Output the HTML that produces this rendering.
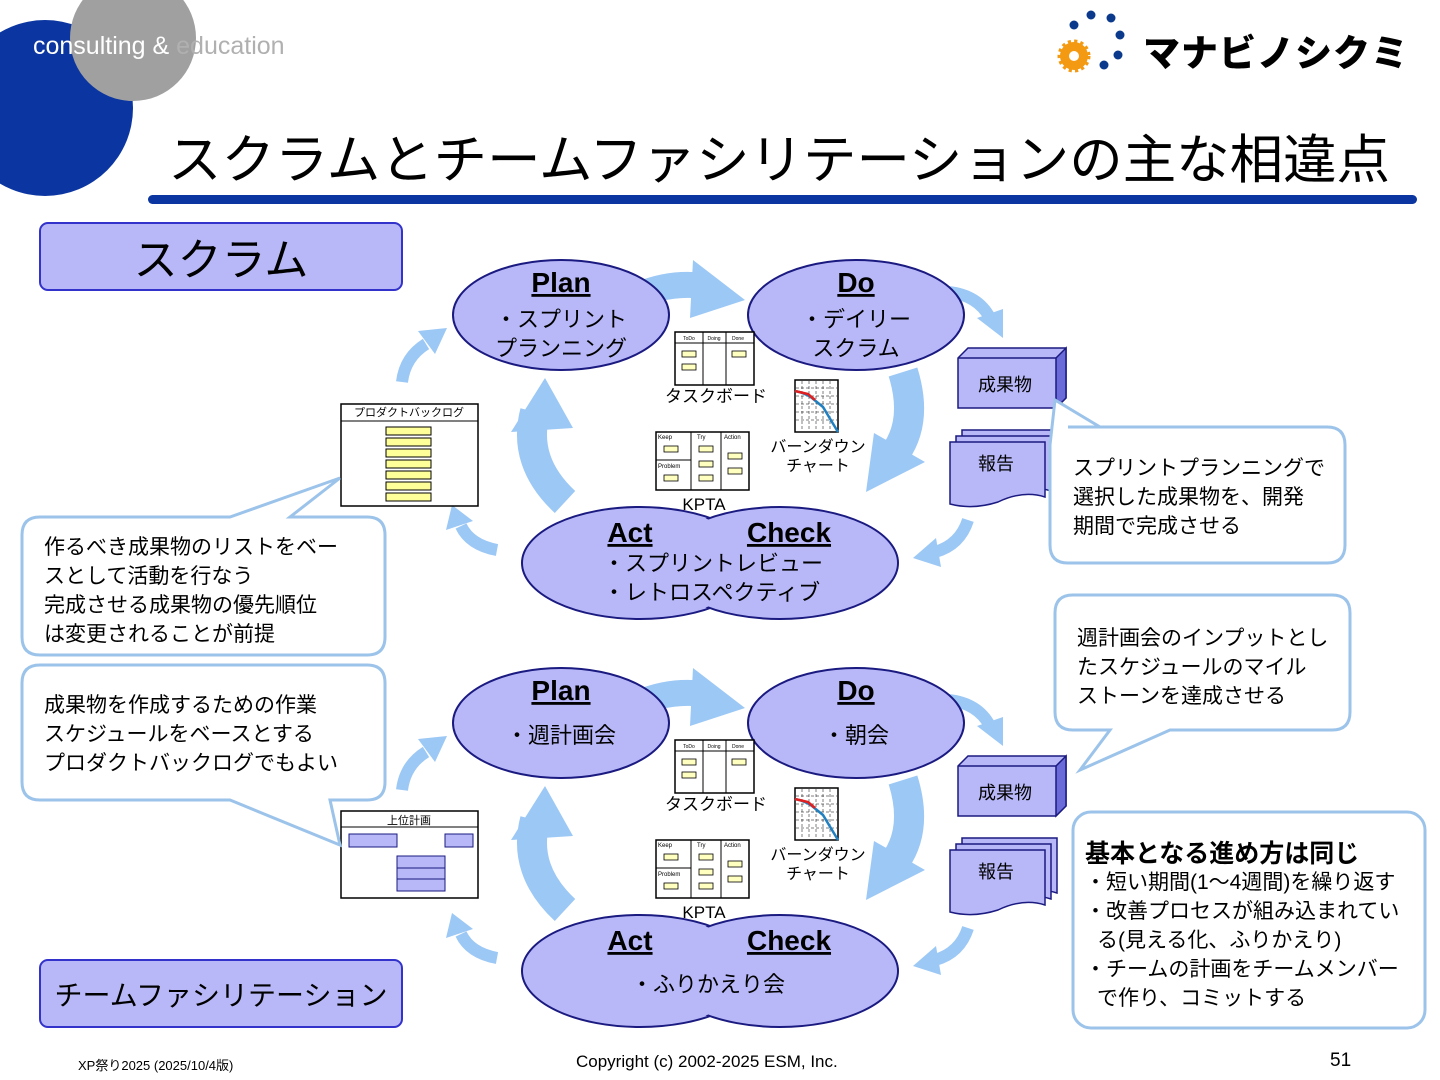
<!DOCTYPE html>
<html><head><meta charset="utf-8"><style>
html,body{margin:0;padding:0;background:#fff;width:1440px;height:1080px;overflow:hidden}
svg{display:block}
text{font-family:"Liberation Sans","Noto Sans CJK JP",sans-serif;fill:#000}
.b{font-weight:bold}
</style></head><body>
<svg width="1440" height="1080" viewBox="0 0 1440 1080" xmlns="http://www.w3.org/2000/svg">
<defs>
<g id="cycle">
  <path d="M620,305 Q660,280 705,286" stroke="#9cc8f5" stroke-width="26" fill="none"/>
  <polygon points="693,260 745,300 690,318" fill="#9cc8f5"/>
  <path d="M903,372 Q918,420 896,452" stroke="#9cc8f5" stroke-width="30" fill="none"/>
  <polygon points="874,433 925,462 866,492" fill="#9cc8f5"/>
  <path d="M565,502 Q522,462 535,412" stroke="#9cc8f5" stroke-width="30" fill="none"/>
  <polygon points="511,432 545,378 573,428" fill="#9cc8f5"/>
  <path d="M402,382 Q405,357 426,344" stroke="#9cc8f5" stroke-width="12" fill="none"/>
  <polygon points="418,331 447,328 435,354" fill="#9cc8f5"/>
  <path d="M497,550 Q470,545 461,526" stroke="#9cc8f5" stroke-width="12" fill="none"/>
  <polygon points="446,530 452,505 473,521" fill="#9cc8f5"/>
  <path d="M948,292 Q978,295 990,318" stroke="#9cc8f5" stroke-width="12" fill="none"/>
  <polygon points="977,318 1003,338 1003,309" fill="#9cc8f5"/>
  <path d="M968,520 Q960,545 935,552" stroke="#9cc8f5" stroke-width="12" fill="none"/>
  <polygon points="936,538 913,558 941,567" fill="#9cc8f5"/>
  <ellipse cx="561" cy="315" rx="108" ry="55" fill="#b8b8f8" stroke="#1a1a80" stroke-width="2"/>
  <ellipse cx="856" cy="315" rx="108" ry="55" fill="#b8b8f8" stroke="#1a1a80" stroke-width="2"/>
  <ellipse cx="640" cy="563" rx="118" ry="56" fill="#b8b8f8" stroke="#1a1a80" stroke-width="2"/>
  <ellipse cx="780" cy="563" rx="118" ry="56" fill="#b8b8f8" stroke="#1a1a80" stroke-width="2"/>
  <ellipse cx="640" cy="563" rx="116" ry="54" fill="#b8b8f8"/>
  <text x="561" y="292" font-size="28" class="b" text-anchor="middle" text-decoration="underline">Plan</text>
  <text x="856" y="292" font-size="28" class="b" text-anchor="middle" text-decoration="underline">Do</text>
  <text x="630" y="542" font-size="28" class="b" text-anchor="middle" text-decoration="underline">Act</text>
  <text x="789" y="542" font-size="28" class="b" text-anchor="middle" text-decoration="underline">Check</text>
  <rect x="675" y="332" width="79" height="53" fill="#fff" stroke="#000" stroke-width="1.5"/>
  <line x1="675" y1="343" x2="754" y2="343" stroke="#000"/>
  <line x1="703" y1="332" x2="703" y2="385" stroke="#000"/>
  <line x1="726" y1="332" x2="726" y2="385" stroke="#000"/>
  <text x="689" y="340" font-size="5" text-anchor="middle">ToDo</text>
  <text x="714" y="340" font-size="5" text-anchor="middle">Doing</text>
  <text x="738" y="340" font-size="5" text-anchor="middle">Done</text>
  <rect x="682" y="351" width="14" height="6" fill="#ffffc0" stroke="#000" stroke-width=".8"/>
  <rect x="682" y="364" width="14" height="6" fill="#ffffc0" stroke="#000" stroke-width=".8"/>
  <rect x="732" y="351" width="14" height="6" fill="#ffffc0" stroke="#000" stroke-width=".8"/>
  <text x="716" y="402" font-size="17" text-anchor="middle">タスクボード</text>
  <rect x="656" y="432" width="93" height="58" fill="#fff" stroke="#000" stroke-width="1.5"/>
  <line x1="691" y1="432" x2="691" y2="490" stroke="#000"/>
  <line x1="721" y1="432" x2="721" y2="490" stroke="#000"/>
  <line x1="656" y1="460" x2="691" y2="460" stroke="#000"/>
  <text x="658" y="439" font-size="6">Keep</text>
  <text x="697" y="439" font-size="6">Try</text>
  <text x="724" y="439" font-size="6">Action</text>
  <text x="658" y="468" font-size="6">Problem</text>
  <rect x="664" y="446" width="14" height="6" fill="#ffffc0" stroke="#000" stroke-width=".8"/>
  <rect x="664" y="475" width="14" height="6" fill="#ffffc0" stroke="#000" stroke-width=".8"/>
  <rect x="699" y="446" width="14" height="6" fill="#ffffc0" stroke="#000" stroke-width=".8"/>
  <rect x="699" y="461" width="14" height="6" fill="#ffffc0" stroke="#000" stroke-width=".8"/>
  <rect x="699" y="475" width="14" height="6" fill="#ffffc0" stroke="#000" stroke-width=".8"/>
  <rect x="728" y="453" width="14" height="6" fill="#ffffc0" stroke="#000" stroke-width=".8"/>
  <rect x="728" y="468" width="14" height="6" fill="#ffffc0" stroke="#000" stroke-width=".8"/>
  <text x="704" y="510" font-size="17" text-anchor="middle">KPTA</text>
  <rect x="795" y="380" width="43" height="52" fill="#fff" stroke="#000" stroke-width="1.5"/>
  <path d="M802,381V431M809,381V431M816,381V431M823,381V431M830,381V431M796,388H837M796,396H837M796,404H837M796,412H837M796,420H837" stroke="#000" stroke-width=".5" stroke-dasharray="3,2"/>
  <path d="M795,391 Q805,393 812,398 L823,407 L838,432" stroke="#2080c0" stroke-width="2.5" fill="none"/>
  <path d="M795,391 L808,394 L815,400" stroke="#e02020" stroke-width="2.5" fill="none"/>
  <text x="818" y="452" font-size="16" text-anchor="middle">バーンダウン</text>
  <text x="818" y="471" font-size="16" text-anchor="middle">チャート</text>
  <polygon points="958,358 968,348 1066,348 1066,398 1056,408 958,408" fill="#b8b8f8" stroke="#1a1a80" stroke-width="1.5"/>
  <polygon points="1056,358 1066,348 1066,398 1056,408" fill="#6a6ad8" stroke="#1a1a80" stroke-width="1.5"/>
  <line x1="958" y1="358" x2="1056" y2="358" stroke="#1a1a80" stroke-width="1.5"/>
  <text x="1005" y="391" font-size="18" text-anchor="middle">成果物</text>
  <path d="M962,430 H1057 V485 Q1035,478 1010,490 Q985,498 962,492 Z" fill="#b8b8f8" stroke="#1a1a80" stroke-width="1.5"/>
  <path d="M956,436 H1051 V491 Q1029,484 1004,496 Q979,504 956,498 Z" fill="#b8b8f8" stroke="#1a1a80" stroke-width="1.5"/>
  <path d="M950,442 H1045 V497 Q1023,490 998,502 Q973,510 950,504 Z" fill="#b8b8f8" stroke="#1a1a80" stroke-width="1.5"/>
  <text x="996" y="470" font-size="18" text-anchor="middle">報告</text>
</g>
</defs>

<circle cx="45" cy="108" r="88" fill="#0b35a0"/>
<circle cx="133" cy="38" r="63" fill="#a0a0a0"/>
<text x="33" y="54" font-size="25" style="fill:#fff">consulting &amp; <tspan style="fill:#b0b0b0">education</tspan></text>
<text x="168" y="178" font-size="53" textLength="1222" lengthAdjust="spacingAndGlyphs">スクラムとチームファシリテーションの主な相違点</text>
<rect x="148" y="195" width="1269" height="9" rx="4.5" fill="#0b35a0"/>
<circle cx="1074" cy="56" r="14" fill="#f39a12" stroke="#f39a12" stroke-width="5" stroke-dasharray="3,3"/>
<circle cx="1074" cy="56" r="5" fill="#fff"/>
<g fill="#0b3a8c">
<circle cx="1091" cy="15" r="4.5"/><circle cx="1111" cy="18" r="4.5"/><circle cx="1074" cy="25" r="4.5"/><circle cx="1120" cy="35" r="4.5"/><circle cx="1118" cy="55" r="4.5"/><circle cx="1104" cy="65" r="4.5"/>
</g>
<text x="1143" y="66" font-size="37" font-weight="900" style="letter-spacing:1px">マナビノシクミ</text>

<rect x="40" y="223" width="362" height="67" rx="8" fill="#b8b8f8" stroke="#3333cc" stroke-width="2"/>
<text x="221" y="275" font-size="44" text-anchor="middle">スクラム</text>
<rect x="40" y="960" width="362" height="67" rx="8" fill="#b8b8f8" stroke="#3333cc" stroke-width="2"/>
<text x="221" y="1005" font-size="28" text-anchor="middle">チームファシリテーション</text>

<use href="#cycle"/>
<use href="#cycle" y="408"/>
<text x="561" y="327" font-size="22" text-anchor="middle">・スプリント</text>
<text x="561" y="356" font-size="22" text-anchor="middle">プランニング</text>
<text x="856" y="327" font-size="22" text-anchor="middle">・デイリー</text>
<text x="856" y="356" font-size="22" text-anchor="middle">スクラム</text>
<text x="603" y="571" font-size="22">・スプリントレビュー</text>
<text x="603" y="600" font-size="22">・レトロスペクティブ</text>
<text x="561" y="743" font-size="22" text-anchor="middle">・週計画会</text>
<text x="856" y="743" font-size="22" text-anchor="middle">・朝会</text>
<text x="708" y="992" font-size="22" text-anchor="middle">・ふりかえり会</text>

<rect x="341" y="404" width="137" height="102" fill="#fff" stroke="#000" stroke-width="1.5"/>
<line x1="341" y1="421" x2="478" y2="421" stroke="#000"/>
<text x="409" y="416" font-size="11" text-anchor="middle">プロダクトバックログ</text>
<g fill="#ffff99" stroke="#000" stroke-width="1">
<rect x="386" y="427" width="45" height="8"/><rect x="386" y="438" width="45" height="8"/><rect x="386" y="449" width="45" height="8"/><rect x="386" y="460" width="45" height="8"/><rect x="386" y="471" width="45" height="8"/><rect x="386" y="482" width="45" height="8"/><rect x="386" y="493" width="45" height="8"/>
</g>
<rect x="341" y="811" width="137" height="87" fill="#fff" stroke="#000" stroke-width="1.5"/>
<line x1="341" y1="827" x2="478" y2="827" stroke="#000"/>
<text x="409" y="824" font-size="11" text-anchor="middle">上位計画</text>
<g fill="#b8b8f8" stroke="#1a1a80" stroke-width="1">
<rect x="349" y="834" width="48" height="13"/><rect x="445" y="834" width="28" height="13"/><rect x="397" y="856" width="48" height="13"/><rect x="397" y="868" width="48" height="11"/><rect x="397" y="879" width="48" height="12"/>
</g>

<g fill="#fff" stroke="#9cc3ea" stroke-width="3">
<path d="M40,517 H230 L340,478 L290,517 H367 Q385,517 385,535 V637 Q385,655 367,655 H40 Q22,655 22,637 V535 Q22,517 40,517 Z"/>
<path d="M40,665 H367 Q385,665 385,683 V782 Q385,800 367,800 H330 L340,845 L230,800 H40 Q22,800 22,782 V683 Q22,665 40,665 Z"/>
<path d="M1068,427 H1327 Q1345,427 1345,445 V545 Q1345,563 1327,563 H1068 Q1050,563 1050,545 V445 L1055,400 L1100,427 Z"/>
<path d="M1073,595 H1332 Q1350,595 1350,613 V712 Q1350,730 1332,730 H1170 L1080,770 L1110,730 H1073 Q1055,730 1055,712 V613 Q1055,595 1073,595 Z"/>
<rect x="1073" y="812" width="352" height="216" rx="18"/>
</g>
<g font-size="21">
<text x="44" y="554">作るべき成果物のリストをベー</text>
<text x="44" y="583">スとして活動を行なう</text>
<text x="44" y="612">完成させる成果物の優先順位</text>
<text x="44" y="641">は変更されることが前提</text>
<text x="44" y="712">成果物を作成するための作業</text>
<text x="44" y="741">スケジュールをベースとする</text>
<text x="44" y="770">プロダクトバックログでもよい</text>
<text x="1073" y="475">スプリントプランニングで</text>
<text x="1073" y="504">選択した成果物を、開発</text>
<text x="1073" y="533">期間で完成させる</text>
<text x="1077" y="645">週計画会のインプットとし</text>
<text x="1077" y="674">たスケジュールのマイル</text>
<text x="1077" y="703">ストーンを達成させる</text>
<text x="1085" y="862" font-size="25" class="b">基本となる進め方は同じ</text>
<text x="1085" y="889">・短い期間(1～4週間)を繰り返す</text>
<text x="1085" y="918">・改善プロセスが組み込まれてい</text>
<text x="1097" y="947">る(見える化、ふりかえり)</text>
<text x="1085" y="976">・チームの計画をチームメンバー</text>
<text x="1097" y="1005">で作り、コミットする</text>
</g>

<text x="78" y="1070" font-size="13">XP祭り2025 (2025/10/4版)</text>
<text x="576" y="1067" font-size="17">Copyright (c) 2002-2025 ESM, Inc.</text>
<text x="1330" y="1066" font-size="19">51</text>
</svg>
</body></html>
